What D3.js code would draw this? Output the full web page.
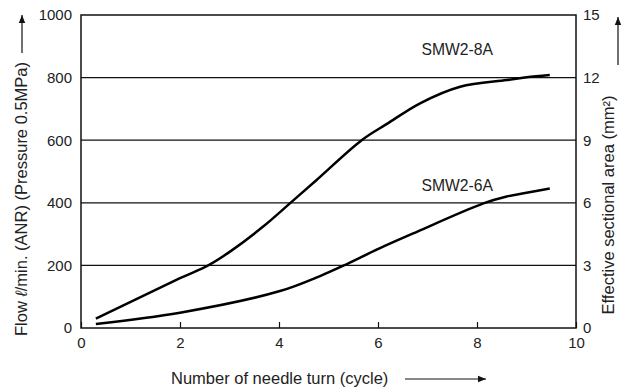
<!DOCTYPE html>
<html>
<head>
<meta charset="utf-8">
<script src="https://cdn.jsdelivr.net/npm/d3@7"></script>
<style>
  html, body { margin: 0; padding: 0; background: #fff; }
  svg text { font-family: "Liberation Sans", Arial, sans-serif; fill: #222; }
</style>
</head>
<body>
<div id="chart"></div>
<script>
// needle turns (cycle) vs flow (l/min)
const smw8aTurns = [0.3, 2, 2.57, 3.01, 3.68, 4.22, 4.76, 5.67, 6.18, 6.85, 7.66, 8.6, 9.0, 9.47];
const smw8aFlow  = [30, 159, 200, 244, 324, 398, 473, 600, 652, 718, 771, 792, 801, 808];
const smw6aTurns = [0.3, 2, 4.02, 4.83, 5.3, 6.04, 6.71, 8.13, 8.6, 9.0, 9.47];
const smw6aFlow  = [13, 49, 118, 166, 199, 255, 302, 398, 420, 432, 446];
const seriesNames = ["SMW2-8A", "SMW2-6A"];
const xTicks = [0, 2, 4, 6, 8, 10];
const flowTicks = [0, 200, 400, 600, 800, 1000];
const areaTicks = [0, 3, 6, 9, 12, 15];

const width = 625, height = 388;
const margin = { top: 15, right: 49, bottom: 60, left: 81 };
const w = width - margin.left - margin.right;
const h = height - margin.top - margin.bottom;

const svg = d3.select("#chart").append("svg")
  .attr("width", width)
  .attr("height", height);

const g = svg.append("g")
  .attr("transform", "translate(" + margin.left + "," + margin.top + ")");

const x = d3.scaleLinear().domain([0, 10]).range([0, w]);
const y = d3.scaleLinear().domain([0, 1000]).range([h, 0]);
const y2 = d3.scaleLinear().domain([0, 15]).range([h, 0]);

// grid lines
g.selectAll(".grid")
  .data(flowTicks.filter(d => d > 0 && d < 1000))
  .enter().append("line")
  .attr("x1", 0).attr("x2", w)
  .attr("y1", d => y(d)).attr("y2", d => y(d))
  .attr("stroke", "#111")
  .attr("stroke-width", 1.2);

// axes
const xAxis = g.append("g")
  .attr("transform", "translate(0," + h + ")")
  .call(d3.axisBottom(x).tickValues(xTicks).tickSize(-6).tickPadding(9).tickFormat(d3.format("d")));
const yAxis = g.append("g")
  .call(d3.axisLeft(y).tickValues(flowTicks).tickSize(0).tickPadding(9).tickFormat(d3.format("d")));
const yAxis2 = g.append("g")
  .attr("transform", "translate(" + w + ",0)")
  .call(d3.axisRight(y2).tickValues(areaTicks).tickSize(0).tickPadding(7).tickFormat(d3.format("d")));

[xAxis, yAxis, yAxis2].forEach(a => {
  a.select(".domain").remove();
  a.selectAll("line").attr("stroke", "#111").attr("stroke-width", 1.2);
  a.selectAll("text").style("font-size", "15px").attr("fill", "#222");
});

// frame
g.append("rect")
  .attr("x", 0).attr("y", 0)
  .attr("width", w).attr("height", h)
  .attr("fill", "none")
  .attr("stroke", "#111")
  .attr("stroke-width", 1.5);

// curves
const line = d3.line()
  .x(d => x(d[0]))
  .y(d => y(d[1]))
  .curve(d3.curveCatmullRom.alpha(0.5));

const series = [
  { name: seriesNames[0], pts: d3.zip(smw8aTurns, smw8aFlow), labelY: 872 },
  { name: seriesNames[1], pts: d3.zip(smw6aTurns, smw6aFlow), labelY: 437 }
];

g.selectAll(".curve")
  .data(series)
  .enter().append("path")
  .attr("d", d => line(d.pts))
  .attr("fill", "none")
  .attr("stroke", "#000")
  .attr("stroke-width", 2.5);

g.selectAll(".lbl")
  .data(series)
  .enter().append("text")
  .attr("x", x(7.6))
  .attr("y", d => y(d.labelY))
  .attr("text-anchor", "middle")
  .style("font-size", "15.7px")
  .text(d => d.name);

// arrow marker
svg.append("defs").append("marker")
  .attr("id", "arr")
  .attr("viewBox", "0 0 10 10")
  .attr("refX", 10).attr("refY", 5)
  .attr("markerWidth", 10).attr("markerHeight", 8)
  .attr("markerUnits", "userSpaceOnUse")
  .attr("orient", "auto")
  .append("path")
  .attr("d", "M0,1 L10,5 L0,9 Z")
  .attr("fill", "#111");

// left title
const lt = svg.append("text")
  .attr("transform", "translate(27," + 199 + ") rotate(-90)")
  .attr("text-anchor", "middle")
  .style("font-size", "16.5px");
lt.append("tspan").text("Flow  ");
lt.append("tspan").style("font-style", "italic").text("\u2113");
lt.append("tspan").text("/min. (ANR) (Pressure 0.5MPa)");

svg.append("line")
  .attr("x1", 22).attr("x2", 22)
  .attr("y1", 53).attr("y2", 15)
  .attr("stroke", "#111").attr("stroke-width", 1.2)
  .attr("marker-end", "url(#arr)");

// right title
svg.append("text")
  .attr("transform", "translate(614," + 205 + ") rotate(-90)")
  .attr("text-anchor", "middle")
  .style("font-size", "16.5px")
  .text("Effective sectional area (mm\u00b2)");

svg.append("line")
  .attr("x1", 618).attr("x2", 618)
  .attr("y1", 65).attr("y2", 17)
  .attr("stroke", "#111").attr("stroke-width", 1.2)
  .attr("marker-end", "url(#arr)");

// bottom title
svg.append("text")
  .attr("x", 171)
  .attr("y", 384)
  .style("font-size", "16.5px")
  .text("Number of needle turn (cycle)");

svg.append("line")
  .attr("x1", 405).attr("x2", 486)
  .attr("y1", 379).attr("y2", 379)
  .attr("stroke", "#111").attr("stroke-width", 1.2)
  .attr("marker-end", "url(#arr)");
</script>
</body>
</html>
